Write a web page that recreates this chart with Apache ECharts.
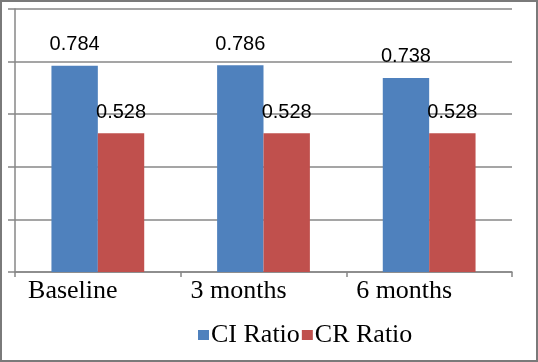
<!DOCTYPE html>
<html>
<head>
<meta charset="utf-8">
<script src="https://cdn.jsdelivr.net/npm/echarts@6/dist/echarts.min.js"></script>
<style>
  html, body { margin: 0; padding: 0; background: #fff; }
  #chart { width: 538px; height: 362px; }
</style>
</head>
<body>
<div id="chart"></div>
<script>
// data
var categories = ['Baseline', '3 months', '6 months']
var ciRatio = [0.784, 0.786, 0.738]
var crRatio = [0.528, 0.528, 0.528]
var seriesNames = ['CI Ratio', 'CR Ratio']

var gray = '#878787'
var chart = echarts.init(document.getElementById('chart'))

var barLabel = {
  show: true,
  position: 'top',
  distance: 11,
  color: '#000',
  fontSize: 20,
  fontFamily: 'Liberation Sans'
}

chart.setOption({
  animation: false,
  backgroundColor: '#fff',
  graphic: [{
    type: 'rect',
    shape: { x: 1, y: 1, width: 536, height: 360 },
    style: { fill: 'none', stroke: '#7a7a7a', lineWidth: 2 }
  }],
  legend: {
    data: seriesNames,
    left: 193,
    top: 317,
    itemWidth: 11,
    itemHeight: 10,
    itemGap: 2,
    icon: 'rect',
    textStyle: {
      fontFamily: 'Liberation Serif',
      fontSize: 26,
      color: '#000',
      padding: [0, 0, 0, -3]
    }
  },
  grid: {
    left: 15,
    right: 26,
    top: 9,
    bottom: 90
  },
  xAxis: {
    type: 'category',
    data: categories,
    axisLine: { lineStyle: { color: gray, width: 1.5 } },
    axisTick: { show: true, length: 5, lineStyle: { color: gray, width: 1.5 } },
    axisLabel: {
      color: '#000',
      fontFamily: 'Liberation Serif',
      fontSize: 26,
      margin: 6,
      padding: [0, 50, 0, 0]
    }
  },
  yAxis: {
    type: 'value',
    min: 0,
    max: 1,
    interval: 0.2,
    axisLine: { show: true, lineStyle: { color: gray, width: 1.5 } },
    axisTick: { show: true, length: 7, lineStyle: { color: gray, width: 1.5 } },
    axisLabel: { show: false },
    splitLine: { lineStyle: { color: gray, width: 1.5 } }
  },
  series: [
    {
      name: seriesNames[0],
      type: 'bar',
      data: ciRatio,
      barGap: '0%',
      barCategoryGap: '44%',
      itemStyle: { color: '#4f81bd' },
      label: barLabel
    },
    {
      name: seriesNames[1],
      type: 'bar',
      data: crRatio,
      itemStyle: { color: '#c0504d' },
      label: barLabel
    }
  ]
})
</script>
</body>
</html>
